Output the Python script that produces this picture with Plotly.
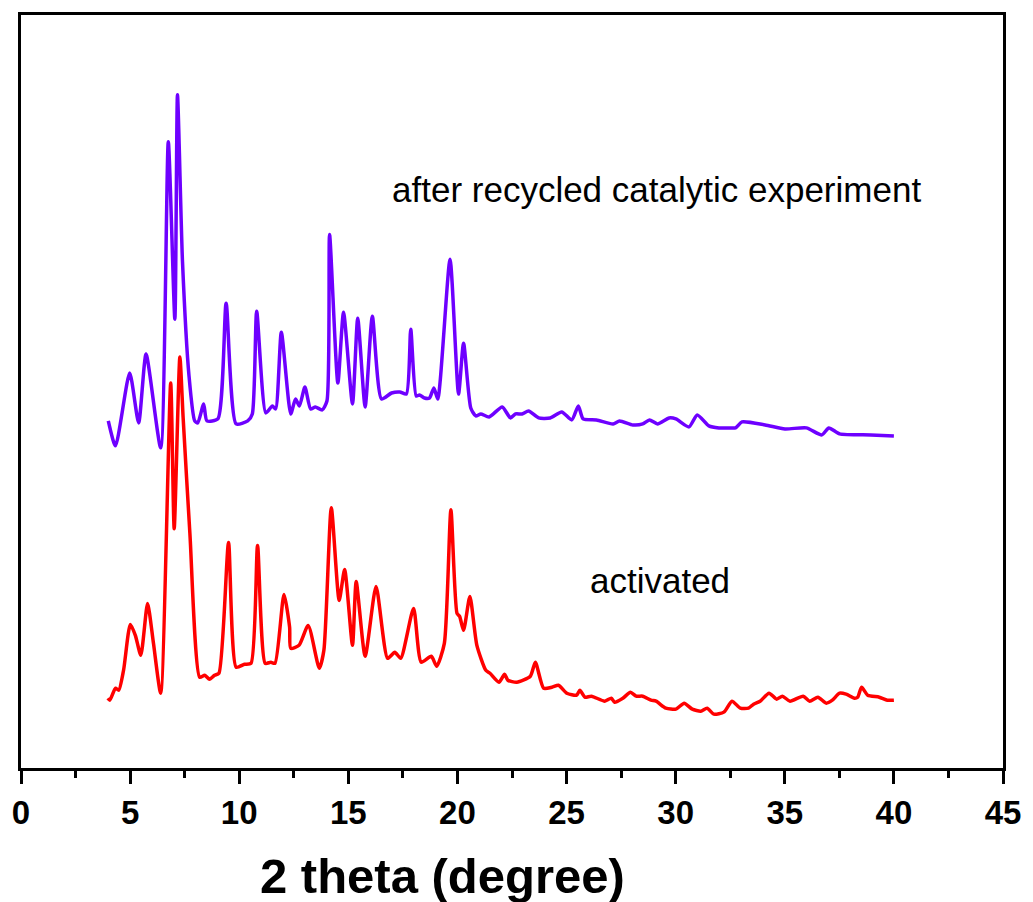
import plotly.graph_objects as go

# ---- data: 2 theta (degree) and intensity (a.u., offset) ----
recycled_x = [4.00, 4.33, 4.98, 5.39, 5.73, 6.40, 6.75, 7.05, 7.17, 7.40, 7.70, 7.96, 8.10, 8.37, 8.52,
              9.02, 9.40, 9.86, 10.39, 10.60, 10.80, 11.22, 11.52, 11.67, 11.93, 12.36, 12.58, 12.76,
              13.01, 13.27, 13.49, 13.80, 14.02, 14.14, 14.52, 14.78, 15.19, 15.43, 15.77, 16.10, 16.52,
              16.98, 17.36, 17.66, 17.86, 18.11, 18.26, 18.49, 18.72, 18.92, 19.10, 19.66, 20.05, 20.28,
              20.61, 20.84, 21.07, 21.45, 22.05, 22.43, 22.66, 22.96, 23.26, 23.72, 24.25, 24.78, 25.24,
              25.54, 25.76, 26.37, 27.13, 27.43, 28.04, 28.49, 28.80, 29.17, 29.70, 30.01, 30.61, 30.99,
              31.52, 31.98, 32.43, 32.74, 33.04, 34.10, 35.01, 35.99, 36.70, 37.02, 37.51, 38.95, 40.00]
recycled_y = [348, 323, 396, 346, 415, 321, 628, 450, 675, 508, 393, 348, 346, 365, 348,
              350, 466, 345, 348, 355, 458, 356, 363, 360, 437, 355, 370, 363,
              382, 360, 362, 359, 368, 535, 386, 457, 365, 451, 362, 453, 370,
              376, 377, 375, 440, 373, 374, 371, 371, 381, 370, 510, 375, 426,
              361, 353, 355, 352, 362, 351, 355, 355, 358, 351, 351, 357, 349,
              363, 350, 349, 345, 348, 344, 345, 349, 345, 351, 350, 342, 354,
              343, 341, 341, 341, 347, 344, 340, 341, 334, 341, 335, 334, 333]

activated_x = [3.98, 4.07, 4.33, 4.48, 4.70, 5.01, 5.24, 5.49, 5.80, 6.07, 6.40, 6.86, 7.02, 7.28, 7.43,
               7.74, 8.19, 8.42, 8.64, 8.87, 9.07, 9.51, 9.86, 10.24, 10.54, 10.84, 11.19, 11.45, 11.64,
               12.05, 12.31, 12.36, 12.74, 13.16, 13.67, 13.88, 14.22, 14.58, 14.83, 15.19, 15.36, 15.77,
               16.27, 16.80, 17.13, 17.40, 17.99, 18.34, 18.80, 19.05, 19.40, 19.70, 19.98, 20.10, 20.28,
               20.57, 20.89, 21.30, 21.49, 21.90, 22.16, 22.31, 22.72, 23.34, 23.57, 23.95, 24.33, 24.63,
               25.01, 25.46, 25.61, 25.84, 26.14, 26.75, 27.05, 27.20, 27.58, 27.93, 28.19, 28.49, 28.87,
               29.10, 29.55, 30.01, 30.39, 30.76, 31.15, 31.44, 31.75, 32.21, 32.58, 32.96, 33.34, 33.57,
               33.87, 34.28, 34.63, 34.89, 35.24, 35.84, 36.14, 36.52, 36.90, 37.18, 37.51, 37.81, 38.19,
               38.34, 38.52, 38.80, 39.33, 39.70, 40.00]
activated_y = [70, 68, 80, 78, 98, 144, 133, 113, 165, 125, 75, 386, 240, 412, 351,
               235, 91, 93, 89, 93, 95, 226, 101, 104, 105, 223, 105, 106, 105,
               174, 141, 120, 123, 143, 100, 118, 261, 168, 199, 123, 187, 112,
               182, 110, 116, 110, 160, 106, 112, 102, 125, 259, 155, 152, 138,
               172, 123, 98, 95, 86, 94, 88, 86, 92, 106, 80, 81, 83,
               75, 73, 78, 71, 72, 67, 70, 66, 70, 76, 72, 72, 68,
               67, 60, 59, 65, 59, 57, 60, 54, 56, 67, 60, 60, 64,
               67, 75, 69, 72, 67, 72, 67, 71, 65, 68, 75, 74, 70,
               71, 81, 73, 71, 68, 68]

labels = ["after recycled catalytic experiment", "activated"]
x_ticks = [0, 5, 10, 15, 20, 25, 30, 35, 40, 45]

FONT = "Arial, Liberation Sans, sans-serif"

fig = go.Figure()
fig.add_trace(go.Scatter(x=recycled_x, y=recycled_y, mode="lines",
                         line=dict(color="#6E00FF", width=3.5, shape="spline", smoothing=0.6),
                         showlegend=False))
fig.add_trace(go.Scatter(x=activated_x, y=activated_y, mode="lines",
                         line=dict(color="#FF0000", width=3.5, shape="spline", smoothing=0.6),
                         showlegend=False))

fig.add_annotation(x=29.1, y=580, xref="x", yref="y", text=labels[0], showarrow=False,
                   font=dict(family=FONT, size=35, color="black"))
fig.add_annotation(x=29.3, y=188, xref="x", yref="y", text=labels[1], showarrow=False,
                   font=dict(family=FONT, size=35, color="black"))
fig.add_annotation(x=0.429, y=-0.143, xref="paper", yref="paper", text="2 theta (degree)",
                   showarrow=False, yanchor="middle",
                   font=dict(family=FONT, size=49, color="black", weight="bold"))

fig.update_layout(
    width=1033, height=902,
    margin=dict(l=14, r=26, t=13, b=134),
    paper_bgcolor="white", plot_bgcolor="white",
    xaxis=dict(range=[0, 45], tickvals=x_ticks, ticktext=[str(v) for v in x_ticks],
               ticks="outside", ticklen=13, tickwidth=3, tickcolor="black",
               showline=True, linewidth=3, linecolor="black", mirror=True,
               showgrid=False, zeroline=False,
               tickfont=dict(family=FONT, size=33, color="black", weight="bold"),
               minor=dict(dtick=2.5, tick0=0, ticks="outside", ticklen=7, tickwidth=2.5,
                          tickcolor="black", showgrid=False)),
    yaxis=dict(range=[0, 755], showticklabels=False, ticks="",
               showline=True, linewidth=3, linecolor="black", mirror=True,
               showgrid=False, zeroline=False),
)

fig.write_html("out.html")
